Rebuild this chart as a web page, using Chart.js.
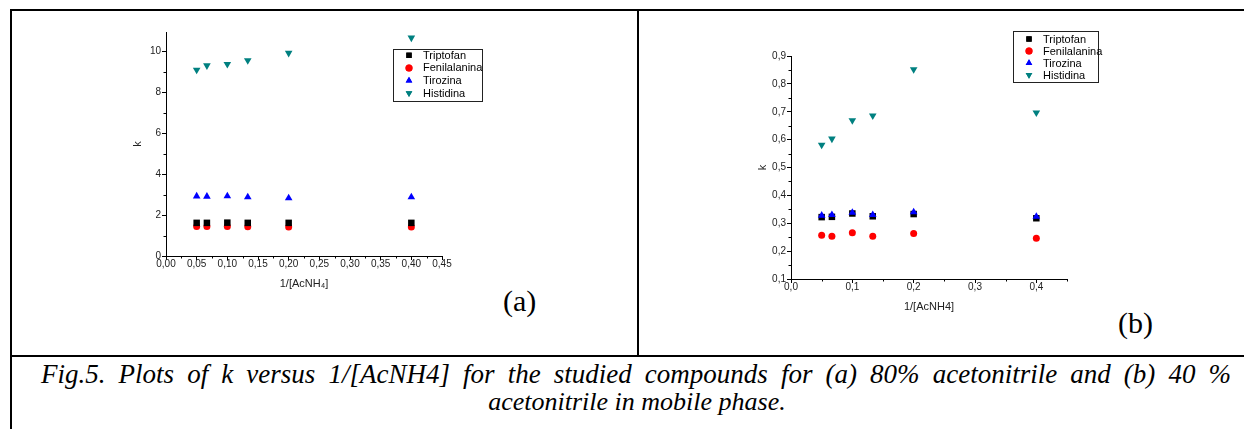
<!DOCTYPE html>
<html>
<head>
<meta charset="utf-8">
<script src="https://cdn.jsdelivr.net/npm/chart.js@4.4.1/dist/chart.umd.min.js"></script>
<style>
  body { margin: 0; background: #fff; width: 1244px; height: 429px; overflow: hidden; position: relative; }
  .ln { position: absolute; background: #000; }
  canvas { position: absolute; }
  .tag { position: absolute; font: 30px "Liberation Serif", "Times New Roman", serif; line-height: 34px; color: #000; }
  .cap { position: absolute; font-family: "Liberation Serif", "Times New Roman", serif; font-style: italic; line-height: 30px; color: #000; }
  #cap1 { left: 41px; width: 1190px; top: 359px; font-size: 27px; text-align: justify; text-align-last: justify; }
  #cap2 { left: 11px; width: 1252px; top: 387px; font-size: 26px; text-align: center; white-space: nowrap; }
</style>
</head>
<body>
<!-- table borders -->
<div class="ln" style="left:10px;top:9px;width:1240px;height:2px"></div>
<div class="ln" style="left:10px;top:9px;width:2px;height:430px"></div>
<div class="ln" style="left:637px;top:10px;width:2px;height:347px"></div>
<div class="ln" style="left:10px;top:355px;width:1240px;height:2px"></div>

<canvas id="chartA" width="370" height="269" style="left:131px;top:22px"></canvas>
<canvas id="chartB" width="360" height="289" style="left:756px;top:25px"></canvas>

<div class="tag" style="left:503px;top:284px">(a)</div>
<div class="tag" style="left:1118px;top:306px">(b)</div>

<div class="cap" id="cap1">Fig.5. Plots of k versus 1/[AcNH4] for the studied compounds for (a) 80% acetonitrile and (b) 40 %</div>
<div class="cap" id="cap2">acetonitrile in mobile phase.</div>

<script>
// 数据 (a) 80% acetonitrile
const xA = [0.05, 0.0667, 0.1, 0.1333, 0.2, 0.4];
const triptofanA = [1.62, 1.62, 1.63, 1.62, 1.62, 1.62];
const fenilalaninaA = [1.44, 1.44, 1.44, 1.43, 1.42, 1.42];
const tirozinaA = [2.92, 2.91, 2.93, 2.88, 2.83, 2.88];
const histidinaA = [9.10, 9.31, 9.38, 9.56, 9.92, 10.67];

// 数据 (b) 40% acetonitrile
const xB = [0.05, 0.0667, 0.1, 0.1333, 0.2, 0.4];
const triptofanB = [0.322, 0.323, 0.335, 0.325, 0.333, 0.318];
const fenilalaninaB = [0.257, 0.253, 0.266, 0.253, 0.263, 0.246];
const tirozinaB = [0.328, 0.330, 0.338, 0.330, 0.340, 0.324];
const histidinaB = [0.581, 0.603, 0.669, 0.686, 0.852, 0.697];

const seriesNames = ['Triptofan', 'Fenilalanina', 'Tirozina', 'Histidina'];

// 刻度
const xTicksA = [0, 0.05, 0.1, 0.15, 0.2, 0.25, 0.3, 0.35, 0.4, 0.45];
const xMinorA = [0.025, 0.075, 0.125, 0.175, 0.225, 0.275, 0.325, 0.375, 0.425];
const yTicksA = [0, 2, 4, 6, 8, 10];
const yMinorA = [1, 3, 5, 7, 9];
const xTicksB = [0, 0.1, 0.2, 0.3, 0.4];
const xMinorB = [0.05, 0.15, 0.25, 0.35, 0.45];
const yTicksB = [0.1, 0.2, 0.3, 0.4, 0.5, 0.6, 0.7, 0.8, 0.9];
const yMinorB = [0.15, 0.25, 0.35, 0.45, 0.55, 0.65, 0.75, 0.85];

const styles = [
    { color: '#000000', pointStyle: 'rect', radius: 4.6, rotation: 0, order: 1 },
    { color: '#ff0000', pointStyle: 'circle', radius: 3.5, rotation: 0, order: 2 },
    { color: '#0000ff', pointStyle: 'triangle', radius: 4.4, rotation: 0, order: 0 },
    { color: '#008080', pointStyle: 'triangle', radius: 4.4, rotation: 180, order: 3 }
];

function makeDatasets(xs, lists) {
    return lists.map((ys, i) => ({
        label: seriesNames[i],
        data: xs.map((x, j) => ({ x: x, y: ys[j] })),
        backgroundColor: styles[i].color,
        borderColor: styles[i].color,
        borderWidth: 0,
        pointStyle: styles[i].pointStyle,
        pointRadius: styles[i].radius,
        rotation: styles[i].rotation,
        order: styles[i].order,
        showLine: false
    }));
}

// Origin 风格的小刻度
const minorTicksPlugin = {
    id: 'minorTicks',
    afterDraw(chart, args, opts) {
        const ctx = chart.ctx;
        const xs = chart.scales.x, ys = chart.scales.y;
        ctx.save();
        ctx.strokeStyle = '#000';
        ctx.lineWidth = 1;
        ctx.beginPath();
        (opts.x || []).forEach(v => {
            const px = Math.round(xs.getPixelForValue(v)) + 0.5;
            ctx.moveTo(px, xs.top);
            ctx.lineTo(px, xs.top + 2.5);
        });
        (opts.y || []).forEach(v => {
            const py = Math.round(ys.getPixelForValue(v)) + 0.5;
            ctx.moveTo(ys.right, py);
            ctx.lineTo(ys.right - 2.5, py);
        });
        ctx.stroke();
        ctx.restore();
    }
};

// 图例框
const boxLegendPlugin = {
    id: 'boxLegend',
    afterDraw(chart, args, opts) {
        const ctx = chart.ctx;
        ctx.save();
        ctx.strokeStyle = '#222';
        ctx.lineWidth = 1;
        ctx.strokeRect(opts.left + 0.5, opts.top + 0.5, opts.width, opts.height);
        ctx.font = '11px "Liberation Sans", Arial, sans-serif';
        ctx.textBaseline = 'middle';
        seriesNames.forEach((name, i) => {
            const y = opts.firstRow + i * opts.rowGap;
            const r = Math.min(styles[i].radius, 3.8);
            ctx.fillStyle = styles[i].color;
            ctx.beginPath();
            Chart.helpers.drawPoint(ctx, {
                pointStyle: styles[i].pointStyle,
                radius: r,
                rotation: styles[i].rotation,
                borderWidth: 0
            }, opts.markerX, y);
            ctx.fill();
            ctx.fillStyle = '#000';
            ctx.fillText(name, opts.textX, y + 0.5);
        });
        ctx.restore();
    }
};

function buildChart(id, datasets, cfg) {
    const tickFont = { family: '"Liberation Sans", Arial, sans-serif', size: 10 };
    const titleFont = { family: '"Liberation Sans", Arial, sans-serif', size: 11 };
    return new Chart(document.getElementById(id), {
        type: 'scatter',
        data: { datasets: datasets },
        options: {
            responsive: false,
            animation: false,
            devicePixelRatio: 1,
            layout: { padding: cfg.padding },
            plugins: {
                legend: { display: false },
                tooltip: { enabled: false },
                minorTicks: { x: cfg.xMinor, y: cfg.yMinor },
                boxLegend: cfg.legend
            },
            scales: {
                x: {
                    type: 'linear',
                    min: cfg.xMin, max: cfg.xMax,
                    afterBuildTicks: s => { s.ticks = cfg.xTicks.map(v => ({ value: v })); },
                    afterFit: s => { s.height = 35; },
                    border: { display: true, color: '#000', width: 1 },
                    grid: { drawOnChartArea: false, drawTicks: true, tickLength: 4, color: '#000' },
                    ticks: {
                        color: '#222', font: tickFont, padding: -2, maxRotation: 0, autoSkip: false,
                        callback: v => v.toFixed(cfg.xDec).replace('.', ',')
                    },
                    title: { display: true, text: cfg.xTitle, color: '#222', font: titleFont, padding: { top: 1, bottom: 0 } }
                },
                y: {
                    type: 'linear',
                    min: cfg.yMin, max: cfg.yMax,
                    afterBuildTicks: s => { s.ticks = cfg.yTicks.map(v => ({ value: v })); },
                    afterFit: s => { s.width = 35; },
                    border: { display: true, color: '#000', width: 1 },
                    grid: { drawOnChartArea: false, drawTicks: true, tickLength: 4, color: '#000' },
                    ticks: {
                        color: '#222', font: tickFont, padding: 1, autoSkip: false,
                        callback: v => v.toFixed(cfg.yDec).replace('.', ',')
                    },
                    title: { display: true, text: 'k', color: '#222', font: titleFont, padding: 0 }
                }
            }
        },
        plugins: [minorTicksPlugin, boxLegendPlugin]
    });
}

buildChart('chartA', makeDatasets(xA, [triptofanA, fenilalaninaA, tirozinaA, histidinaA]), {
    padding: { top: 10, right: 59, left: 0, bottom: 0 },
    xMin: 0, xMax: 0.45, xTicks: xTicksA, xMinor: xMinorA, xDec: 2,
    yMin: 0, yMax: 10.95, yTicks: yTicksA, yMinor: yMinorA, yDec: 0,
    xTitle: '1/[AcNH\u2084]',
    legend: { left: 262, top: 27, width: 89, height: 52, firstRow: 33.3, rowGap: 12.6, markerX: 278, textX: 292 }
});

buildChart('chartB', makeDatasets(xB, [triptofanB, fenilalaninaB, tirozinaB, histidinaB]), {
    padding: { top: 31, right: 49, left: 0, bottom: 0 },
    xMin: 0, xMax: 0.45, xTicks: xTicksB, xMinor: xMinorB, xDec: 1,
    yMin: 0.1, yMax: 0.9, yTicks: yTicksB, yMinor: yMinorB, yDec: 1,
    xTitle: '1/[AcNH4]',
    legend: { left: 257, top: 6, width: 85, height: 51, firstRow: 14, rowGap: 12, markerX: 273, textX: 287 }
});
</script>
</body>
</html>
